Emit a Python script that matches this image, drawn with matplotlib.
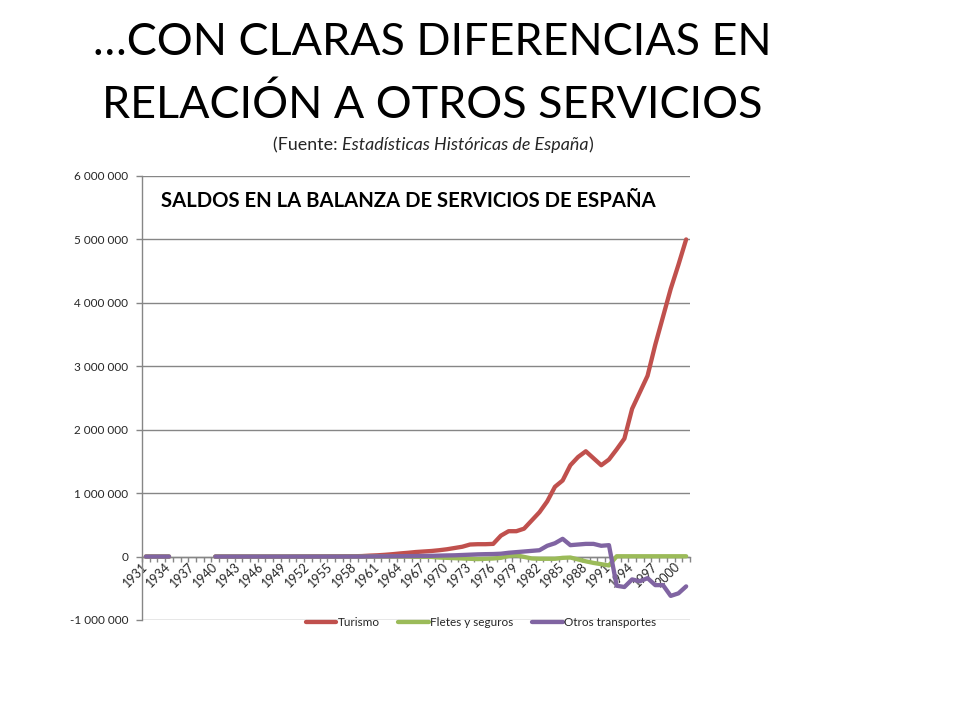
import numpy as np
import matplotlib
matplotlib.use("Agg")
import matplotlib.pyplot as plt
from matplotlib.ticker import FuncFormatter, FixedLocator

plt.rcParams['font.family'] = ['Lato', 'DejaVu Sans']

# ---------------- data ----------------
years = list(range(1931, 2002))
nan = np.nan

turismo = [0, 0, 0, 0, nan, nan, nan, nan, nan,
           0, 0, 0, 0, 0, 0, 0, 0, 0, 0,
           1000, 2000, 2000, 3000, 3000, 4000, 4000, 5000, 5000, 8000,
           15000, 20000, 28000, 38000, 50000, 60000, 72000, 80000, 88000, 100000,
           115000, 135000, 155000, 190000, 195000, 195000, 200000, 330000, 400000, 400000,
           440000, 570000, 700000, 870000, 1100000, 1200000, 1440000, 1570000, 1660000, 1550000,
           1440000, 1530000, 1690000, 1860000, 2330000, 2590000, 2850000, 3340000, 3780000, 4220000,
           4600000, 5000000]

fletes = [0, 0, 0, 0, nan, nan, nan, nan, nan,
          0, 0, 0, 0, 0, 0, 0, 0, 0, 0,
          0, 0, 0, 0, 0, 0, 0, 0, 0, 0,
          0, 0, 0, 0, 0, 0, -5000, -5000, -5000, -15000,
          -20000, -25000, -30000, -35000, -40000, -35000, -30000, -20000, 10000, 20000,
          -5000, -30000, -35000, -35000, -35000, -20000, -15000, -45000, -75000, -100000,
          -120000, -140000, 5000, 5000, 5000, 5000, 5000, 5000, 5000, 5000,
          5000, 5000]

otros = [0, 0, 0, 0, nan, nan, nan, nan, nan,
         0, 0, 0, 0, 0, 0, 0, 0, 0, 0,
         0, 0, 0, 0, 0, 0, 0, 0, 0, 0,
         2000, 3000, 4000, 5000, 6000, 7000, 8000, 10000, 12000, 15000,
         18000, 20000, 25000, 30000, 35000, 38000, 40000, 45000, 60000, 70000,
         80000, 90000, 100000, 170000, 210000, 280000, 180000, 190000, 200000, 200000,
         170000, 180000, -460000, -480000, -360000, -390000, -340000, -450000, -450000, -620000,
         -580000, -470000]

series_names = ["Turismo", "Fletes y seguros", "Otros transportes"]
series_colors = ["#C0504D", "#9BBB59", "#8064A2"]
yticks = [-1000000, 0, 1000000, 2000000, 3000000, 4000000, 5000000, 6000000]
xlabel_years = [1931, 1934, 1937, 1940, 1943, 1946, 1949, 1952, 1955, 1958, 1961,
                1964, 1967, 1970, 1973, 1976, 1979, 1982, 1985, 1988, 1991, 1994,
                1997, 2000]

title_lines = ["…CON CLARAS DIFERENCIAS EN", "RELACIÓN A OTROS SERVICIOS"]
chart_title = "SALDOS EN LA BALANZA DE SERVICIOS DE ESPAÑA"

# ---------------- figure ----------------
W, H = 960, 720
fig = plt.figure(figsize=(W / 100, H / 100), dpi=100)
fig.patch.set_facecolor("white")

def fx(px):
    return px / W

def fy(py):
    return 1 - py / H

ax = fig.add_axes([fx(142), fy(620), fx(690) - fx(142), fy(176) - fy(620)])
x = np.arange(len(years))

handles = []
for vals, name, col in zip([turismo, fletes, otros], series_names, series_colors):
    h, = ax.plot(x, np.array(vals, dtype=float), color=col, lw=3.1,
                 solid_capstyle="round", solid_joinstyle="round", label=name, zorder=3)
    handles.append(h)

ax.set_xlim(-0.5, len(years) - 0.5)
ax.set_ylim(min(yticks), max(yticks))
ax.set_yticks(yticks)
ax.yaxis.set_major_formatter(FuncFormatter(lambda v, p: f"{int(round(v)):,}".replace(",", " ")))
ax.grid(axis="y", color="#868686", lw=1.0, zorder=0)
ax.set_axisbelow(True)

for s in ["top", "right"]:
    ax.spines[s].set_visible(False)
ax.spines["left"].set_color("#868686")
ax.spines["left"].set_linewidth(1.0)
ax.spines["bottom"].set_position(("data", 0))
ax.spines["bottom"].set_color("#868686")
ax.spines["bottom"].set_linewidth(1.0)

ax.tick_params(axis="y", length=4, width=1, color="#868686", direction="out",
               labelsize=8.5, labelcolor="#262626", pad=6)

# x ticks: marks at category boundaries, labels every 3 years
ax.xaxis.set_major_locator(FixedLocator(np.arange(-0.5, len(years) + 0.5, 1)))
ax.tick_params(axis="x", which="major", length=3.5, width=1, color="#868686",
               direction="out", labelbottom=False)
lab_pos = [years.index(y) for y in xlabel_years]
ax.set_xticks(lab_pos, minor=True)
ax.set_xticklabels([str(y) for y in xlabel_years], minor=True, rotation=45,
                   ha="right", va="center", rotation_mode="anchor")
ax.tick_params(axis="x", which="minor", length=0, pad=6, labelsize=9,
               labelcolor="#262626")

# legend
fig.legend(handles, series_names, loc="center", bbox_to_anchor=(fx(481), fy(623)),
           ncol=3, frameon=False, fontsize=8.5, handlelength=2.6, handletextpad=0.1,
           columnspacing=1.6, labelcolor="#262626")

# chart title inside plot
fig.text(fx(408.5), fy(201), chart_title, ha="center", va="center",
         fontsize=14.6, fontweight="bold", color="black")

# slide title (two lines, placed by baseline)
for line, base in zip(title_lines, [55, 118]):
    fig.text(fx(432), fy(base), line, ha="center", va="baseline", fontsize=32.3,
             color="black")

# subtitle with italic part
parts = [("(Fuente: ", "normal"), ("Estadísticas Históricas de España", "italic"), (")", "normal")]
renderer = fig.canvas.get_renderer()
texts = []
for t, st in parts:
    tt = fig.text(0, fy(145), t, ha="left", va="center", fontsize=12.9, style=st, color="#262626")
    texts.append(tt)
widths = [tt.get_window_extent(renderer).width for tt in texts]
total = sum(widths)
xstart = 433 - total / 2
for tt, w in zip(texts, widths):
    tt.set_x(fx(xstart))
    xstart += w

fig.savefig("out.png", dpi=100)
